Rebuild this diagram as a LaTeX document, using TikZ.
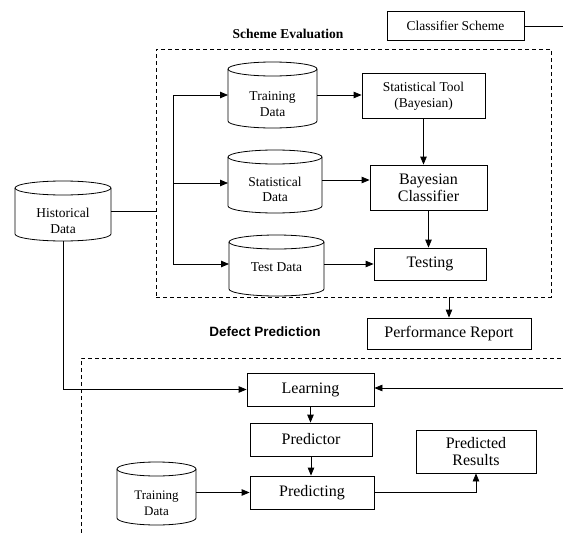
\documentclass[tikz,border=0pt]{standalone}
\usepackage{fontspec}
\setmainfont{Liberation Serif}
\newfontfamily\arialfont{Liberation Sans}
\usetikzlibrary{arrows.meta,calc}
\tikzset{
  box/.style={draw, line width=0.8pt, inner sep=0pt, align=center},
  small/.style={font=\fontsize{13.5}{16}\selectfont},
  big/.style={font=\fontsize{16}{17}\selectfont},
  cylbody/.style={inner sep=0pt, outer sep=0pt},
  arr/.style={line width=0.8pt, -{Triangle[length=8pt,width=6.5pt]}},
  ln/.style={line width=0.8pt},
  dashbox/.style={draw, line width=0.8pt, dash pattern=on 4pt off 3pt, inner sep=0pt},
}
\newcommand{\dbcyl}[8]{% name, x, y, w, h, text, font size, text shift
  \node[cylbody, minimum width=#4pt, minimum height=#5pt] (#1) at (#2,#3) {};
  \draw[ln] ([yshift=-7pt]#1.north west) -- ([yshift=7pt]#1.south west)
     arc[start angle=180, end angle=360, x radius=#4pt/2, y radius=7pt]
     -- ([yshift=-7pt]#1.north east);
  \draw[ln] ([yshift=-7pt]#1.north) ellipse[x radius=#4pt/2, y radius=7pt];
  \node[align=center, inner sep=0pt, font=\fontsize{#7}{15.5}\selectfont] (#1-t) at ([yshift=-#8pt]#1.center) {#6};
}
\begin{document}
\begin{tikzpicture}[x=1pt, y=-1pt]
\useasboundingbox (0,0) rectangle (563,533);

% Classifier scheme
\node[box, small, minimum width=137pt, minimum height=29pt] (cs) at (455.5,26) {Classifier Scheme};
\coordinate (csr) at (563,26);
\draw[ln] (cs.east) -- (csr);

\node[font=\fontsize{13.5}{16}\selectfont\bfseries] (se) at (288,34) {Scheme Evaluation};
\node[dashbox, minimum width=395pt, minimum height=248pt] (eval) at (353.5,173) {};

% Scheme evaluation contents
\dbcyl{tdc}{272.5}{95}{89}{66}{Training\\Data}{13.5}{9}
\node[box, small, minimum width=123pt, minimum height=45pt] (stool) at (423.5,96) {Statistical Tool\\(Bayesian)};
\dbcyl{sdc}{275}{181.5}{94}{63}{Statistical\\Data}{13.5}{8}
\node[box, big, minimum width=117pt, minimum height=45pt] (bc) at (428.5,187.5) {Bayesian\\Classifier};
\dbcyl{tsc}{276.5}{265.5}{95}{61}{Test Data}{13.5}{2}
\node[box, big, minimum width=112pt, minimum height=32pt] (testing) at (430,264) {Testing};

\draw[arr] (tdc.east) -- (tdc.east -| stool.west);
\draw[arr] (stool.south) -- (stool.south |- bc.north);
\draw[arr] ([yshift=1.5pt]sdc.east) -- ([yshift=1.5pt]sdc.east -| bc.west);
\draw[arr] (bc.south) -- (bc.south |- testing.north);
\draw[arr] (tsc.east |- testing.west) -- (testing.west);

\coordinate (br1) at (173,95);
\coordinate (br2) at (173,183);
\coordinate (br3) at (173,264);
\draw[ln] (br1) -- (br3);
\draw[arr] (br1) -- (tdc.west);
\draw[arr] (br2) -- (br2 -| sdc.west);
\draw[arr] (br3) -- (br3 -| tsc.west);

% Historical data
\dbcyl{hd}{63}{211}{96}{60}{Historical\\Data}{13.5}{10}
\draw[ln] (hd.east) -- (hd.east -| eval.west);

% Performance report
\node[box, big, minimum width=164pt, minimum height=31pt] (perf) at (449,333.5) {Performance Report};
\draw[arr] (perf.north |- eval.south) -- (perf.north);

\node[font=\arialfont\fontsize{13.5}{16}\selectfont\bfseries] (dp) at (265,332) {Defect Prediction};

% Defect prediction frame
\coordinate (f1) at (81,533);
\coordinate (f2) at (81,358);
\coordinate (f3) at (563,358);
\draw[ln, dash pattern=on 4pt off 3pt] (f1) -- (f2) -- (f3);

\node[box, big, minimum width=127pt, minimum height=33pt] (learn) at (310.5,389.5) {Learning};
\node[box, big, minimum width=122pt, minimum height=33pt] (pred) at (311,439.5) {Predictor};
\node[box, big, minimum width=124pt, minimum height=33pt] (predg) at (312,492.5) {Predicting};
\dbcyl{tdd}{156.5}{493.5}{79}{63}{Training\\Data}{13}{10}
\node[box, big, minimum width=120pt, minimum height=43pt] (pr) at (476,451.5) {Predicted\\Results};

\coordinate (lr) at (563,388);
\draw[arr] (lr) -- (lr -| learn.east);
\draw[arr] (hd.south) -- (hd.south |- learn.west) -- (learn.west);
\draw[arr] (learn.south) -- (learn.south |- pred.north);
\draw[arr] (pred.south) -- (pred.south |- predg.north);
\draw[arr] (tdd.east |- predg.west) -- (predg.west);
\draw[arr] (predg.east) -- (predg.east -| pr.south) -- (pr.south);
\end{tikzpicture}
\end{document}
